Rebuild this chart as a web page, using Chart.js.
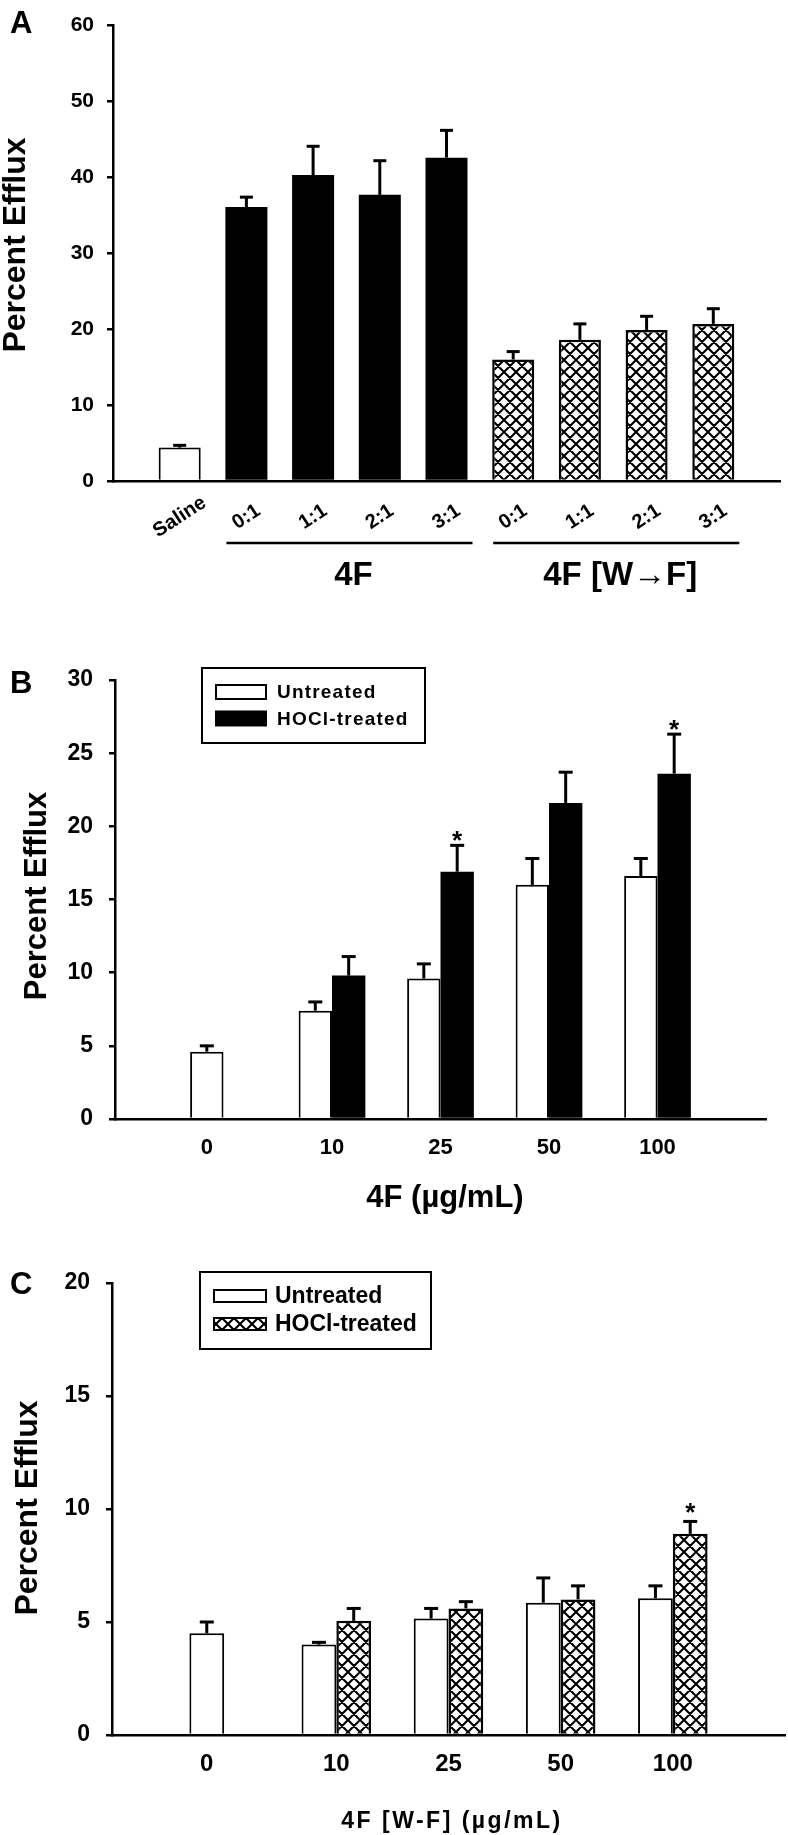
<!DOCTYPE html>
<html>
<head>
<meta charset="utf-8">
<script src="https://cdn.jsdelivr.net/npm/chart.js@4.4.1/dist/chart.umd.min.js"></script>
<style>
html,body{margin:0;padding:0;background:#fff;}
#wrap{position:relative;width:788px;height:1835px;background:#fff;}
canvas{position:absolute;left:0;}
</style>
</head>
<body>
<div id="wrap">
<canvas id="cA" width="788" height="600" style="top:0px;width:788px;height:600px"></canvas>
<canvas id="cB" width="788" height="640" style="top:600px;width:788px;height:640px"></canvas>
<canvas id="cC" width="788" height="595" style="top:1240px;width:788px;height:595px"></canvas>
</div>
<script>
// ---------------- DATA ----------------
// Panel A
const categoriesA = ['Saline', '0:1', '1:1', '2:1', '3:1', '0:1', '1:1', '2:1', '3:1'];
const effluxA = [4.4, 36.1, 40.3, 37.7, 42.6, 16.0, 18.6, 19.9, 20.7];
const errorA = [0.3, 1.3, 3.8, 4.5, 3.6, 1.05, 2.1, 1.8, 2.0];
const groupLabelsA = ['4F', '4F [W\u2192F]'];
const groupRangesA = [[1, 4], [5, 8]];
const yTicksA = [0, 10, 20, 30, 40, 50, 60];

// Panel B
const dosesB = ['0', '10', '25', '50', '100'];
const untreatedB = [4.6, 7.4, 9.6, 16.0, 16.6];
const untreatedErrB = [0.4, 0.6, 1.0, 1.8, 1.2];
const hoclB = [null, 9.8, 16.9, 21.6, 23.6];
const hoclErrB = [null, 1.3, 1.8, 2.1, 2.7];
const significantB = [false, false, true, false, true];
const yTicksB = [0, 5, 10, 15, 20, 25, 30];

// Panel C
const dosesC = ['0', '10', '25', '50', '100'];
const untreatedC = [4.5, 4.0, 5.15, 5.85, 6.05];
const untreatedErrC = [0.5, 0.1, 0.45, 1.1, 0.55];
const hoclC = [null, 5.05, 5.6, 6.0, 8.9];
const hoclErrC = [null, 0.55, 0.3, 0.6, 0.55];
const significantC = [false, false, false, false, true];
const yTicksC = [0, 5, 10, 15, 20];

const seriesNames = ['Untreated', 'HOCl-treated'];

// ---------------- HELPERS ----------------
const FONT = "'Liberation Sans', Arial, Helvetica, sans-serif";
const pad = a => [null, ...a, null];
const padLabels = a => ['', ...a, ''];

function makeHatch(canvas, size, lw) {
  const c = document.createElement('canvas');
  c.width = size; c.height = size;
  const g = c.getContext('2d');
  g.fillStyle = '#fff'; g.fillRect(0, 0, size, size);
  g.strokeStyle = '#000'; g.lineWidth = lw;
  g.beginPath();
  for (const d of [-size, 0, size]) {
    g.moveTo(d, 0); g.lineTo(d + size, size);
    g.moveTo(d + size, 0); g.lineTo(d, size);
  }
  g.stroke();
  return canvas.getContext('2d').createPattern(c, 'repeat');
}

function figPlugin(f) {
  return {
    id: 'fig',
    afterDatasetsDraw(chart) {
      const ctx = chart.ctx, ys = chart.scales.y;
      ctx.save();
      ctx.strokeStyle = '#000'; ctx.fillStyle = '#000'; ctx.lineCap = 'butt';
      chart.data.datasets.forEach((ds, di) => {
        const meta = chart.getDatasetMeta(di);
        meta.data.forEach((bar, i) => {
          const v = ds.data[i], e = ds.errors ? ds.errors[i] : null;
          if (v == null || e == null) return;
          const yc = ys.getPixelForValue(v + e);
          const x = bar.x;
          ctx.lineWidth = f.stemW;
          ctx.beginPath(); ctx.moveTo(x, bar.y); ctx.lineTo(x, yc); ctx.stroke();
          ctx.lineWidth = f.capW;
          ctx.beginPath(); ctx.moveTo(x - f.capHalf, yc); ctx.lineTo(x + f.capHalf, yc); ctx.stroke();
          if (ds.sig && ds.sig[i]) {
            ctx.font = `bold ${f.starSize}px ${FONT}`;
            ctx.textAlign = 'center'; ctx.textBaseline = 'alphabetic';
            ctx.fillText('*', x, yc - f.starGap + 0.58 * f.starSize);
          }
        });
      });
      ctx.restore();
    },
    afterDraw(chart) {
      const ctx = chart.ctx, xs = chart.scales.x;
      ctx.save();
      ctx.fillStyle = '#000'; ctx.strokeStyle = '#000';
      // panel letter
      ctx.font = `bold ${f.letter.size}px ${FONT}`;
      ctx.textAlign = 'left'; ctx.textBaseline = 'alphabetic';
      ctx.fillText(f.letter.text, f.letter.x, f.letter.y);
      // y title
      ctx.save();
      ctx.translate(f.yTitle.x, f.yTitle.y);
      ctx.rotate(-Math.PI / 2);
      ctx.font = `bold ${f.yTitle.size}px ${FONT}`;
      ctx.textAlign = 'center'; ctx.textBaseline = 'alphabetic';
      ctx.fillText(f.yTitle.text, 0, 0);
      ctx.restore();
      // x tick labels centred under the drawn bars of each category
      const labels = chart.data.labels;
      ctx.font = `bold ${f.xlab.size}px ${FONT}`;
      ctx.textAlign = 'center'; ctx.textBaseline = 'middle';
      labels.forEach((lab, i) => {
        if (!lab) return;
        let sum = 0, n = 0;
        chart.data.datasets.forEach((ds, di) => {
          if (ds.data[i] != null) { sum += chart.getDatasetMeta(di).data[i].x; n++; }
        });
        const x = n ? sum / n : xs.getPixelForValue(i);
        ctx.save();
        ctx.translate(x + (f.xlab.dx || 0), f.xlab.y);
        if (f.xlab.rot) ctx.rotate(-f.xlab.rot * Math.PI / 180);
        ctx.fillText(lab, 0, 0);
        ctx.restore();
      });
      // group brackets (panel A)
      if (f.groups) {
        const meta = chart.getDatasetMeta(0);
        f.groups.labels.forEach((g, k) => {
          const [a, b] = f.groups.ranges[k];
          const ba = meta.data[a + 1], bb = meta.data[b + 1];
          const x1 = ba.x - ba.width / 2 + 1, x2 = bb.x + bb.width / 2 + 5;
          ctx.lineWidth = 2.5;
          ctx.beginPath(); ctx.moveTo(x1, f.groups.lineY); ctx.lineTo(x2, f.groups.lineY); ctx.stroke();
          ctx.font = `bold ${f.groups.size}px ${FONT}`;
          ctx.textAlign = 'center'; ctx.textBaseline = 'alphabetic';
          ctx.fillText(g, (x1 + x2) / 2 + 4, f.groups.textY);
        });
      }
      // x title
      if (f.xTitle) {
        ctx.font = `bold ${f.xTitle.size}px ${FONT}`;
        ctx.textAlign = 'center'; ctx.textBaseline = 'alphabetic';
        if (f.xTitle.spacing) ctx.letterSpacing = f.xTitle.spacing + 'px';
        ctx.fillText(f.xTitle.text, f.xTitle.x, f.xTitle.y);
        ctx.letterSpacing = '0px';
      }
      // legend
      if (f.legend) {
        const L = f.legend;
        ctx.lineWidth = 2;
        ctx.strokeRect(L.x, L.y, L.w, L.h);
        chart.data.datasets.forEach((ds, di) => {
          const sy = L.sy[di];
          ctx.fillStyle = ds.backgroundColor;
          ctx.fillRect(L.sx, sy, L.sw, L.sh);
          ctx.strokeStyle = '#000'; ctx.lineWidth = 2;
          ctx.strokeRect(L.sx, sy, L.sw, L.sh);
          ctx.fillStyle = '#000';
          ctx.font = `${L.weight} ${L.size}px ${FONT}`;
          ctx.textAlign = 'left'; ctx.textBaseline = 'middle';
          if (L.spacing) ctx.letterSpacing = L.spacing + 'px';
          ctx.fillText(ds.label, L.tx, sy + L.sh / 2 + 1);
          ctx.letterSpacing = '0px';
        });
      }
      ctx.restore();
    }
  };
}

function makeChart(id, geo, datasets, labels, yTicks, fig) {
  const canvas = document.getElementById(id);
  return new Chart(canvas, {
    type: 'bar',
    data: { labels, datasets },
    options: {
      responsive: false, maintainAspectRatio: false, animation: false, devicePixelRatio: 1,
      layout: { padding: { top: geo.top, right: canvas.width - geo.right, bottom: 0, left: 0 } },
      plugins: { legend: { display: false }, tooltip: { enabled: false }, title: { display: false } },
      scales: {
        x: {
          type: 'category', offset: false,
          grid: { display: false },
          border: { display: true, color: '#000', width: 2.5 },
          ticks: { display: false },
          afterFit: s => { s.height = canvas.height - geo.bottom; }
        },
        y: {
          min: yTicks[0], max: yTicks[yTicks.length - 1],
          grid: { display: true, drawOnChartArea: false, drawTicks: true, tickLength: 6, lineWidth: 2.5, color: '#000' },
          border: { display: true, color: '#000', width: 2.5 },
          ticks: { color: '#000', padding: geo.tickPad, font: { family: FONT, size: geo.tickSize, weight: 'bold' } },
          afterBuildTicks: s => { s.ticks = yTicks.map(v => ({ value: v })); },
          afterFit: s => { s.width = geo.left; }
        }
      }
    },
    plugins: [figPlugin(fig)]
  });
}

// ---------------- PANEL A ----------------
(function () {
  const cv = document.getElementById('cA');
  const hatch = makeHatch(cv, 12, 2.1);
  const fills = categoriesA.map((c, i) => i === 0 ? '#fff' : (i <= 4 ? '#000' : hatch));
  const bw = categoriesA.map((c, i) => i === 0 ? 2 : (i <= 4 ? 0 : 2.5));
  makeChart('cA', { top: 12, right: 780, bottom: 481, left: 113, tickPad: 13, tickSize: 21 }, [{
    label: 'Percent Efflux',
    data: pad(effluxA), errors: pad(errorA),
    backgroundColor: pad(fills), borderColor: '#000', borderWidth: pad(bw),
    barPercentage: 0.63, categoryPercentage: 1.0
  }], padLabels(categoriesA), yTicksA, {
    stemW: 3, capW: 3, capHalf: 6.5, starSize: 26, starGap: 12,
    letter: { text: 'A', x: 10, y: 33, size: 31 },
    yTitle: { text: 'Percent Efflux', x: 25, y: 245, size: 32 },
    xlab: { y: 517, size: 20, rot: 33, dx: 0 },
    groups: { labels: groupLabelsA, ranges: groupRangesA, lineY: 543, textY: 585, size: 33 }
  });
})();

// ---------------- PANEL B ----------------
(function () {
  makeChart('cB', { top: 80, right: 766, bottom: 519, left: 115, tickPad: 16, tickSize: 23 }, [
    { label: seriesNames[0], data: pad(untreatedB), errors: pad(untreatedErrB),
      backgroundColor: '#fff', borderColor: '#000', borderWidth: 2,
      barPercentage: 1.0, categoryPercentage: 0.615 },
    { label: seriesNames[1], data: pad(hoclB), errors: pad(hoclErrB), sig: pad(significantB),
      backgroundColor: '#000', borderColor: '#000', borderWidth: 0,
      barPercentage: 1.0, categoryPercentage: 0.615 }
  ], padLabels(dosesB), yTicksB, {
    stemW: 3, capW: 3, capHalf: 7, starSize: 26, starGap: 11,
    letter: { text: 'B', x: 10, y: 93, size: 31 },
    yTitle: { text: 'Percent Efflux', x: 46, y: 296, size: 31 },
    xlab: { y: 548, size: 22 },
    xTitle: { text: '4F (\u00b5g/mL)', x: 445, y: 607, size: 31 },
    legend: { x: 202, y: 68, w: 223, h: 75, sx: 216, sw: 50, sh: 14, sy: [85, 111.5], tx: 277, size: 19, weight: 'bold', spacing: 1.2 }
  });
})();

// ---------------- PANEL C ----------------
(function () {
  const cv = document.getElementById('cC');
  const hatch = makeHatch(cv, 12, 2.1);
  makeChart('cC', { top: 43, right: 785, bottom: 495, left: 112, tickPad: 16, tickSize: 23 }, [
    { label: seriesNames[0], data: pad(untreatedC), errors: pad(untreatedErrC),
      backgroundColor: '#fff', borderColor: '#000', borderWidth: 2,
      barPercentage: 1.0, categoryPercentage: 0.62 },
    { label: seriesNames[1], data: pad(hoclC), errors: pad(hoclErrC), sig: pad(significantC),
      backgroundColor: hatch, borderColor: '#000', borderWidth: 2.5,
      barPercentage: 1.0, categoryPercentage: 0.62 }
  ], padLabels(dosesC), yTicksC, {
    stemW: 3, capW: 3, capHalf: 7, starSize: 26, starGap: 16,
    letter: { text: 'C', x: 10, y: 54, size: 31 },
    yTitle: { text: 'Percent Efflux', x: 37, y: 268, size: 32 },
    xlab: { y: 524, size: 24 },
    xTitle: { text: '4F [W-F] (\u00b5g/mL)', x: 452, y: 588, size: 23, spacing: 2.5 },
    legend: { x: 200, y: 32, w: 231, h: 77, sx: 214, sw: 52, sh: 12, sy: [50, 78], tx: 275, size: 23, weight: 'bold', spacing: 0 }
  });
})();
</script>
</body>
</html>
